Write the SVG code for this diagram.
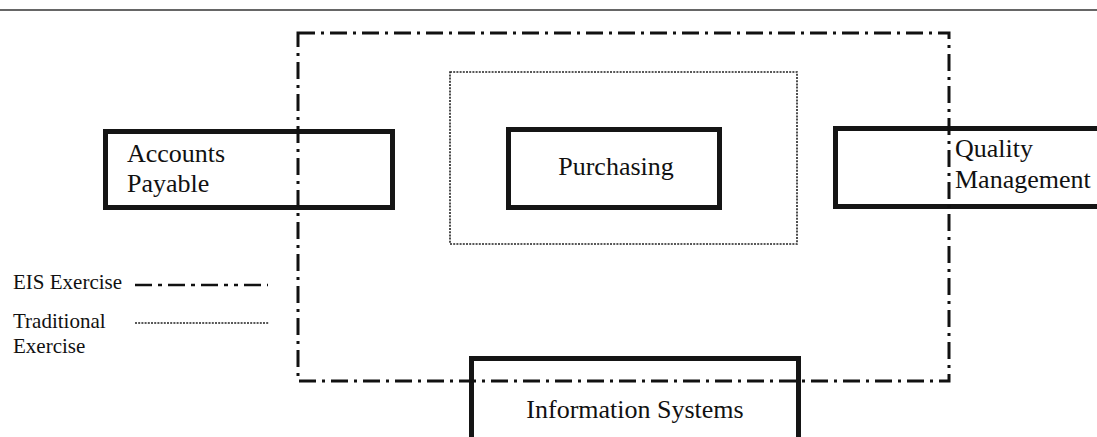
<svg xmlns="http://www.w3.org/2000/svg" width="1097" height="437" viewBox="0 0 1097 437">
  <style>
    .box { fill: none; stroke: #151515; stroke-width: 5; }
    .lbl { font-family: "Liberation Serif", "Times New Roman", serif; font-size: 26px; fill: #111; }
    .leg { font-family: "Liberation Serif", "Times New Roman", serif; font-size: 21px; fill: #111; }
    .eis { fill: none; stroke: #111; stroke-width: 3; stroke-dasharray: 17 6 3 6; }
    .trad { fill: none; stroke: #222; stroke-width: 1.6; stroke-dasharray: 2 1.2; }
  </style>
  <rect width="1097" height="437" fill="#ffffff"/>
  <line x1="0" y1="10" x2="1097" y2="10" stroke="#666" stroke-width="2"/>

  <g id="accounts-payable">
    <rect class="box" x="105.5" y="131.5" width="287" height="76"/>
    <text class="lbl" x="127" y="162">Accounts</text>
    <text class="lbl" x="127" y="192">Payable</text>
  </g>

  <g id="purchasing">
    <rect class="box" x="508.5" y="129.5" width="211" height="78"/>
    <text class="lbl" x="616" y="175" text-anchor="middle">Purchasing</text>
  </g>

  <g id="quality-management">
    <rect class="box" x="835.5" y="128.5" width="270" height="78"/>
    <text class="lbl" x="955" y="157">Quality</text>
    <text class="lbl" x="955" y="188">Management</text>
  </g>

  <g id="information-systems">
    <rect class="box" x="471.5" y="358.5" width="327" height="90"/>
    <text class="lbl" x="635" y="418" text-anchor="middle">Information Systems</text>
  </g>

  <g id="connectors">
    <rect id="eis-boundary" class="eis" x="298" y="33" width="651" height="348"/>
    <rect id="traditional-boundary" class="trad" x="450" y="72" width="347" height="172"/>
  </g>

  <g id="legend">
    <text class="leg" x="13" y="289">EIS Exercise</text>
    <line x1="135" y1="285" x2="268" y2="285" stroke="#111" stroke-width="2.5" stroke-dasharray="17 6 4 6 17 6 4 6 17 6 4 6 4 6"/>
    <text class="leg" x="13" y="328">Traditional</text>
    <text class="leg" x="13" y="353">Exercise</text>
    <line x1="135" y1="323" x2="269" y2="323" stroke="#222" stroke-width="1.6" stroke-dasharray="2 1.2"/>
  </g>
</svg>
